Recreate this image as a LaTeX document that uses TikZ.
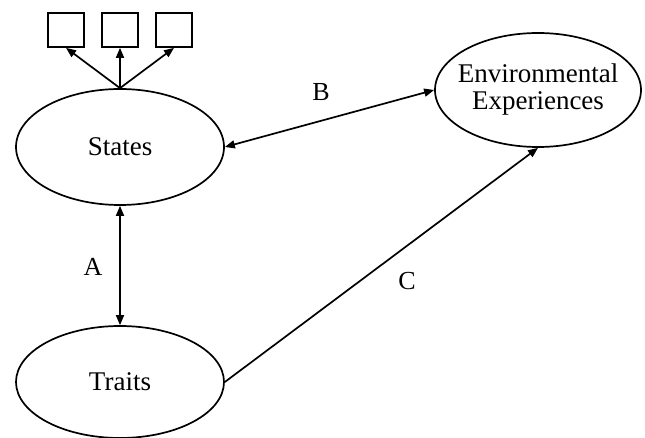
\documentclass[tikz,border=0pt]{standalone}
\usepackage{fontspec}
\setmainfont{Liberation Serif}
\usetikzlibrary{shapes.geometric,arrows.meta}
\begin{document}
\begin{tikzpicture}[x=1pt,y=-1pt,
  latent/.style={draw,ellipse,line width=1.7pt,inner sep=0pt,font=\fontsize{27}{27}\selectfont,align=center},
  ind/.style={draw,rectangle,line width=1.7pt,minimum width=36pt,minimum height=34pt,inner sep=0pt},
  conn/.style={line width=1.7pt,-{Triangle[length=10pt,width=8pt]}},
  bconn/.style={line width=1.7pt,{Triangle[length=10pt,width=8pt]}-{Triangle[length=10pt,width=8pt]}},
  lab/.style={font=\fontsize{26}{28}\selectfont}]
\useasboundingbox (0,0) rectangle (645,438);
\fill[white] (0,0) rectangle (645,438);
\node[latent,minimum width=208pt,minimum height=116pt] (states) at (120,147) {States};
\node[latent,inner xsep=-9pt,minimum width=206pt,minimum height=114pt] (env) at (538,90) {Environmental\\Experiences};
\node[latent,minimum width=208pt,minimum height=112pt] (traits) at (120,382) {Traits};
\node[ind] (b1) at (66,30) {};
\node[ind] (b2) at (120,30) {};
\node[ind] (b3) at (174,30) {};
\draw[conn] (states.north) -- (b1.south);
\draw[conn] (states.north) -- (b2.south);
\draw[conn] (states.north) -- (b3.south);
\draw[bconn] (states.south) -- (traits.north);
\draw[bconn] (states.east) -- (env.west);
\draw[conn] (traits.east) -- (env.south);
\node[lab] (la) at (93,267) {A};
\node[lab] (lb) at (321,92) {B};
\node[lab] (lc) at (407,281) {C};
\end{tikzpicture}
\end{document}
